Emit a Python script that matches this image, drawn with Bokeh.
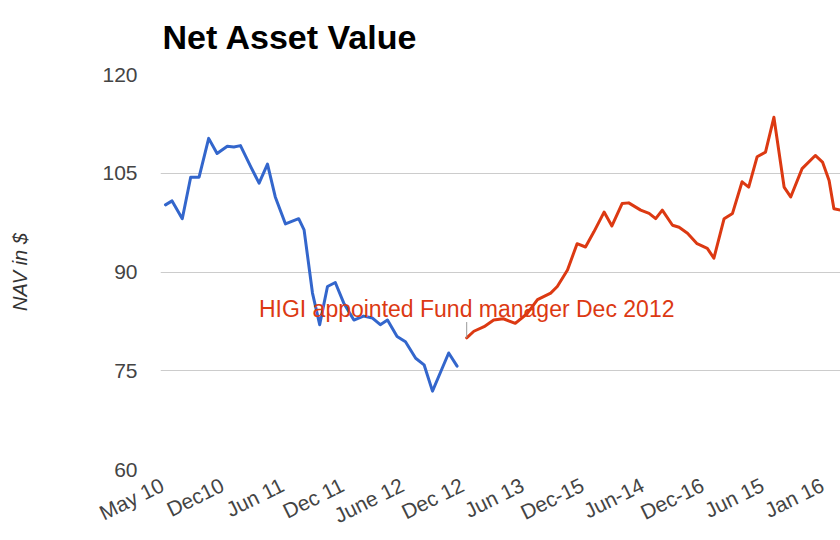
import math
from bokeh.plotting import figure
from bokeh.models import Range1d, FixedTicker
from bokeh.embed import file_html
from bokeh.resources import INLINE
from bokeh.core.properties import value

# ---- data ----
title_text = "Net Asset Value"
x_labels = ["May 10", "Dec10", "Jun 11", "Dec 11", "June 12", "Dec 12",
            "Jun 13", "Dec-15", "Jun-14", "Dec-16", "Jun 15", "Jan 16"]
y_ticks = [60, 75, 90, 105, 120]

# period index (position among the x labels) and NAV before the new manager
before_period = [0.05, 0.16, 0.33, 0.47, 0.61, 0.77, 0.91, 1.08, 1.19, 1.30,
                 1.47, 1.61, 1.75, 1.88, 2.05, 2.27, 2.36, 2.50, 2.62, 2.75,
                 2.88, 3.02, 3.19, 3.35, 3.50, 3.63, 3.75, 3.91, 4.05, 4.22,
                 4.36, 4.50, 4.63, 4.77, 4.91]
before_nav = [100.2, 100.8, 98.1, 104.4, 104.4, 110.3, 108.0, 109.1, 109.0, 109.2,
              106.0, 103.5, 106.4, 101.4, 97.3, 98.1, 96.4, 86.8, 82.0, 87.8,
              88.4, 85.3, 82.7, 83.3, 83.0, 82.0, 82.7, 80.2, 79.4, 76.9,
              75.9, 71.9, 74.7, 77.7, 75.7]

# after the new manager
after_period = [5.07, 5.19, 5.36, 5.52, 5.68, 5.88, 6.08, 6.25, 6.47, 6.58,
                6.75, 6.91, 7.05, 7.19, 7.36, 7.49, 7.66, 7.77, 7.97, 8.11,
                8.22, 8.33, 8.50, 8.61, 8.75, 8.91, 9.08, 9.19, 9.36, 9.50,
                9.66, 9.77, 9.91, 10.05, 10.19, 10.36, 10.47, 10.66, 10.88, 11.00,
                11.11, 11.19, 11.30]
after_nav = [80.0, 81.0, 81.7, 82.7, 82.9, 82.2, 83.7, 85.8, 86.8, 87.8,
             90.3, 94.3, 93.8, 96.1, 99.1, 97.0, 100.4, 100.5, 99.4, 98.9,
             98.1, 99.4, 97.1, 96.8, 95.9, 94.3, 93.6, 92.1, 98.1, 98.9,
             103.7, 102.9, 107.5, 108.2, 113.5, 102.9, 101.4, 105.7, 107.7, 106.7,
             103.9, 99.6, 99.4]

annotation_text = "HIGI appointed Fund manager Dec 2012"
annotation_period = 5.07
annotation_low = 80.0
annotation_high = 82.4

FONT = "Liberation Sans"

p = figure(width=840, height=540, output_backend="svg", toolbar_location=None,
           x_range=Range1d(-0.033, 11.3), y_range=Range1d(60, 120),
           min_border_left=160, min_border_right=0, min_border_top=74,
           min_border_bottom=70, background_fill_color="white",
           border_fill_color="white")
p.outline_line_color = None

p.title.text = title_text
p.title.text_font = FONT
p.title.text_font_size = "34px"
p.title.text_font_style = "bold"
p.title.text_color = "#000000"
p.title.vertical_align = "top"
p.title.standoff = 34
p.title.offset = 2

# grid
p.xgrid.grid_line_color = None
p.ygrid.grid_line_color = "#cccccc"
p.ygrid.grid_line_width = 1

# y axis
p.yaxis.ticker = FixedTicker(ticks=y_ticks)
p.yaxis.axis_line_color = None
p.yaxis.major_tick_line_color = None
p.yaxis.major_tick_out = 0
p.yaxis.major_tick_in = 0
p.yaxis.minor_tick_line_color = None
p.yaxis.major_label_standoff = 23
p.yaxis.major_label_text_font = FONT
p.yaxis.major_label_text_font_size = "21px"
p.yaxis.major_label_text_color = "#444444"
p.yaxis.axis_label = "NAV in $"
p.yaxis.axis_label_text_font = FONT
p.yaxis.axis_label_text_font_size = "20px"
p.yaxis.axis_label_text_font_style = "italic"
p.yaxis.axis_label_text_color = "#333333"
p.yaxis.axis_label_standoff = 68

# x axis
p.xaxis.ticker = FixedTicker(ticks=list(range(len(x_labels))))
p.xaxis.major_label_overrides = {i: lab for i, lab in enumerate(x_labels)}
p.xaxis.major_label_orientation = 0.46
p.xaxis.axis_line_color = None
p.xaxis.major_tick_line_color = None
p.xaxis.major_tick_out = 0
p.xaxis.major_tick_in = 0
p.xaxis.minor_tick_line_color = None
p.xaxis.major_label_standoff = 14
p.xaxis.major_label_text_font = FONT
p.xaxis.major_label_text_font_size = "21px"
p.xaxis.major_label_text_color = "#444444"

# lines
p.line(before_period, before_nav, line_color="#3366cc", line_width=3,
       line_join="round", line_cap="round")
p.line(after_period, after_nav, line_color="#dc3912", line_width=3,
       line_join="round", line_cap="round")

# annotation
p.segment(x0=[annotation_period], y0=[annotation_low], x1=[annotation_period],
          y1=[annotation_high], line_color="#999999", line_width=1)
p.text(x=[annotation_period], y=[annotation_high], text=[annotation_text],
       text_font=value(FONT), text_font_size="23px", text_color="#dc3912",
       text_align="center", text_baseline="alphabetic", y_offset=-13)

open("out.html", "w").write(file_html(p, INLINE))
